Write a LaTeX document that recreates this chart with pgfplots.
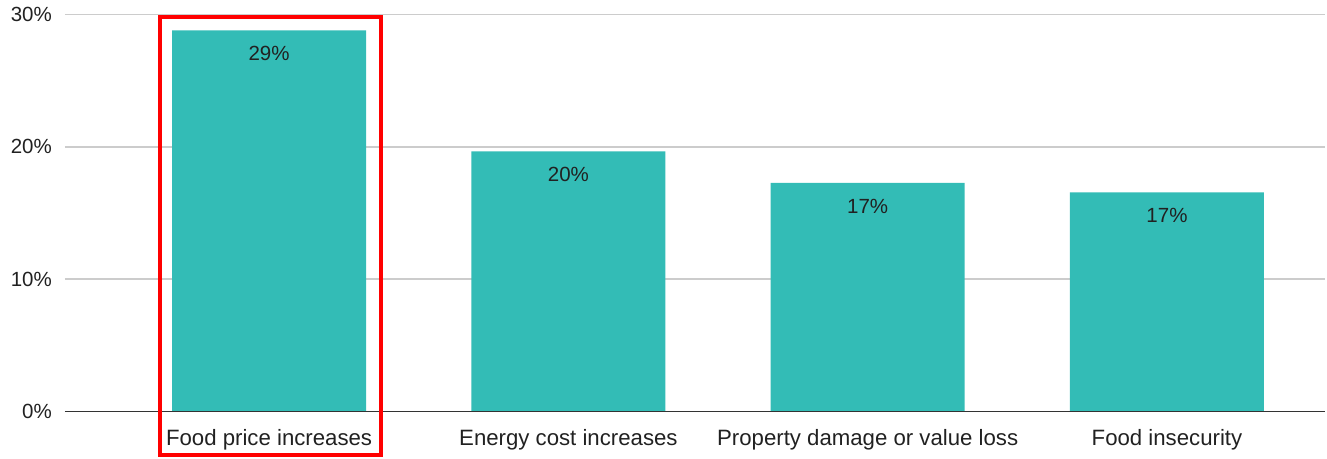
\documentclass[border=0pt]{standalone}
\usepackage{pgfplots}
\pgfplotsset{compat=1.18}
\usepackage{fontspec}
\setmainfont{Liberation Sans}
\definecolor{barteal}{HTML}{33BCB6}
\definecolor{txt}{HTML}{212121}
\definecolor{gridc}{HTML}{CCCCCC}
\definecolor{basec}{HTML}{333333}

\begin{document}
\begin{tikzpicture}
\begin{axis}[
  at={(0,0)}, anchor=south west,
  scale only axis,
  width=1260pt, height=397pt,
  xmin=-0.682, xmax=3.528,
  ymin=0, ymax=30,
  clip=false,
  axis line style={draw=none},
  major tick length=0pt,
  xtick={0,1,2,3},
  xticklabels={Food price increases, Energy cost increases, Property damage or value loss, Food insecurity},
  ytick={0,10,20,30},
  yticklabel={\pgfmathprintnumber{\tick}\%},
  /pgf/number format/assume math mode=true,
  ymajorgrids,
  grid style={draw=gridc, line width=1.4pt},
  tick label style={font=\fontsize{20.5}{25}\selectfont, text=txt},
  xticklabel style={anchor=base, yshift=-33.5pt, font=\fontsize{22.2}{26}\selectfont},
  yticklabel style={anchor=east, inner sep=0pt, xshift=-13pt},
  ybar, bar width=194pt, bar shift=0pt,
  point meta=y,
  nodes near coords={\pgfmathprintnumber[fixed,precision=0]{\pgfplotspointmeta}\%},
  every node near coord/.append style={anchor=base, yshift=-30.5pt,
    font=\fontsize{20.5}{25}\selectfont, text=txt},
]
\addplot[fill=barteal, draw=none] coordinates {
  (0,28.8) (1,19.65) (2,17.28) (3,16.55)
};
% baseline at zero
\draw[basec, line width=1.5pt] (rel axis cs:0,0) -- (rel axis cs:1,0);
% highlight box round the first category
\draw[red, line width=4pt] (axis cs:-0.365,-3.31) rectangle (axis cs:0.373,29.82);
\end{axis}
\pgfresetboundingbox
\path (-65pt,-46.5pt) rectangle (1262pt,411.5pt);
\end{tikzpicture}
\end{document}
